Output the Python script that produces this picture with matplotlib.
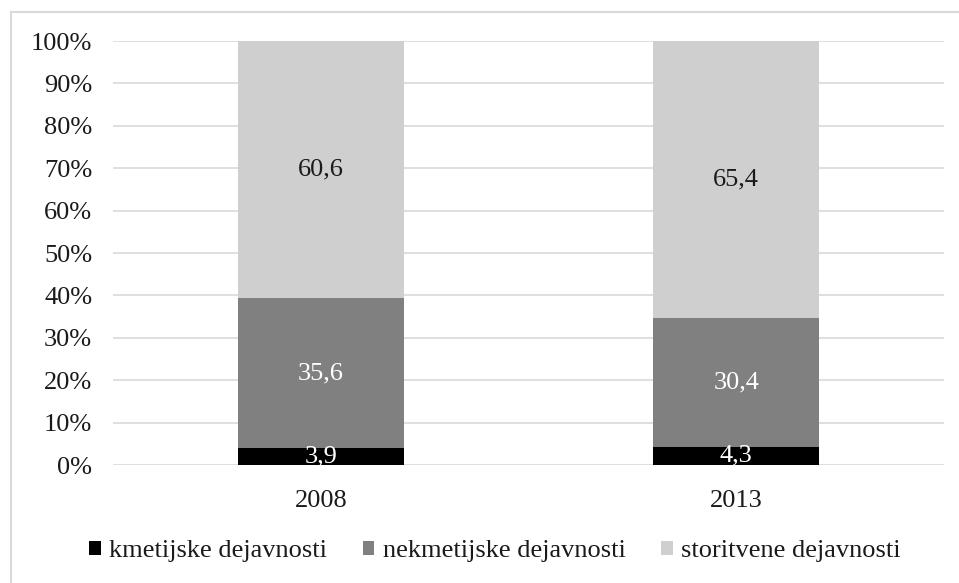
import matplotlib
matplotlib.use("Agg")
import matplotlib.pyplot as plt
from matplotlib.lines import Line2D
from matplotlib.ticker import FuncFormatter
import numpy as np

plt.rcParams['font.family'] = ['Liberation Serif', 'DejaVu Serif']

years = ["2008", "2013"]
series_names = ["kmetijske dejavnosti", "nekmetijske dejavnosti", "storitvene dejavnosti"]
kmetijske = [3.9, 4.3]
nekmetijske = [35.6, 30.4]
storitvene = [60.6, 65.4]
colors = ["#000000", "#808080", "#d0cfd0"]
label_colors = ["white", "white", "#1a1a1a"]

data = np.array([kmetijske, nekmetijske, storitvene])
totals = data.sum(axis=0)
shares = data / totals * 100

fig = plt.figure(figsize=(9.59, 5.83), dpi=100)
ax = fig.add_axes([113/959, 1 - 465/583, (944 - 113)/959, (465 - 41)/583])

x = np.arange(len(years))
bottom = np.zeros(len(years))
for i, name in enumerate(series_names):
    bars = ax.bar(x, shares[i], 0.4, bottom=bottom, color=colors[i], label=name, zorder=2)
    ax.bar_label(bars, labels=[f"{v:.1f}".replace(".", ",") for v in data[i]],
                 label_type='center', color=label_colors[i], fontsize=19)
    bottom += shares[i]

ax.set_xlim(-0.5, 1.5)
ax.set_ylim(0, 100)
ax.set_yticks(np.arange(0, 101, 10))
ax.yaxis.set_major_formatter(FuncFormatter(lambda v, p: f"{int(v)}%"))
ax.set_xticks(x)
ax.set_xticklabels(years)
ax.tick_params(axis='both', length=0, labelsize=19, colors='#1a1a1a')
ax.tick_params(axis='x', pad=18)
ax.tick_params(axis='y', pad=15)
ax.grid(axis='y', color='#d9d9d9', linewidth=1.2, zorder=0)
for s in ax.spines.values():
    s.set_visible(False)

leg = fig.legend(loc='center', bbox_to_anchor=(495/959, 1 - 551/583), ncol=3, frameon=False,
                 fontsize=19, handlelength=0.45, handleheight=0.45, handletextpad=0.32,
                 columnspacing=1.33, labelcolor='#1a1a1a')

# outer chart border (top and left)
fig.add_artist(Line2D([11/959, 11/959], [0, 1 - 12/583], transform=fig.transFigure,
                      color='#d9d9d9', linewidth=1.5))
fig.add_artist(Line2D([11/959, 1], [1 - 12/583, 1 - 12/583], transform=fig.transFigure,
                      color='#d9d9d9', linewidth=1.5))

fig.savefig("out.png", dpi=100)
